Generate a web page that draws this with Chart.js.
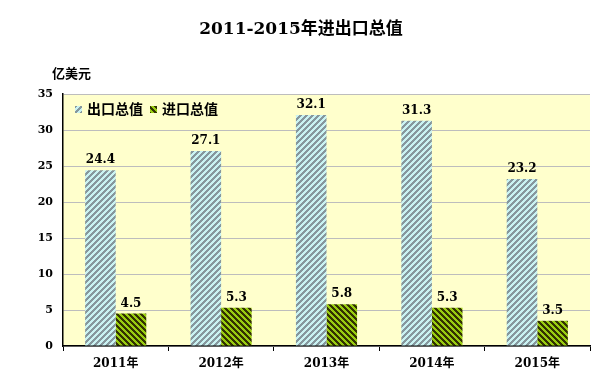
<!DOCTYPE html>
<html>
<head>
    <meta charset="utf-8">
    <title>2011-2015年进出口总值</title>
    <script src="https://cdn.jsdelivr.net/npm/chart.js"></script>
    <style>
        body { margin: 0; background: #fff; }
        #wrap { width: 605px; height: 391px; position: relative; }
    </style>
</head>
<body>
    <div id="wrap"><canvas id="chart"></canvas></div>

    <script>
        // Données
        const years = ['2011年', '2012年', '2013年', '2014年', '2015年'];
        const exportTotal = [24.4, 27.1, 32.1, 31.3, 23.2];
        const importTotal = [4.5, 5.3, 5.8, 5.3, 3.5];
        const yTicks = [0, 5, 10, 15, 20, 25, 30, 35];

        const chartTitle = '2011-2015年进出口总值';
        const unitLabel = '亿美元';
        const serif = "'DejaVu Serif', 'Noto Sans CJK SC'";

        // motifs hachurés
        function stripes(dark, light, slash) {
            const n = 6;
            const c = document.createElement('canvas');
            c.width = n; c.height = n;
            const g = c.getContext('2d');
            for (let x = 0; x < n; x++) {
                for (let y = 0; y < n; y++) {
                    const k = slash ? (x + y) % n : ((x - y) % n + n) % n;
                    g.fillStyle = k < 3 ? dark : light;
                    g.fillRect(x, y, 1, 1);
                }
            }
            return g.createPattern(c, 'repeat');
        }
        const ctx = document.getElementById('chart').getContext('2d');
        const exportFill = stripes('#86979d', '#c9f2f2', true);
        const importFill = stripes('#333300', '#99cc11', false);

        const decor = {
            id: 'decor',
            beforeDraw(chart) {
                const c = chart.ctx, a = chart.chartArea;
                c.save();
                c.fillStyle = '#fff';
                c.fillRect(0, 0, chart.width, chart.height);
                c.fillStyle = '#ffffcc';
                c.fillRect(a.left, a.top, a.right - a.left, a.bottom - a.top);
                c.restore();
            },
            afterDraw(chart) {
                const c = chart.ctx;
                c.save();
                c.fillStyle = '#000';
                c.textBaseline = 'middle';
                // titre
                c.font = 'bold 17px ' + serif;
                c.textAlign = 'center';
                c.fillText(chartTitle, 301, 30);
                // unité
                c.font = 'bold 13px ' + serif;
                c.textAlign = 'left';
                c.fillText(unitLabel, 52, 75);
                // légende
                c.font = 'bold 14px ' + serif;
                let x = 75;
                chart.data.datasets.forEach(ds => {
                    c.fillStyle = ds.backgroundColor;
                    c.fillRect(x, 106, 7, 7);
                    c.fillStyle = '#000';
                    c.fillText(ds.label, x + 12, 110);
                    x += 12 + c.measureText(ds.label).width + 7;
                });
                // étiquettes
                c.font = 'bold 12px ' + serif;
                c.textAlign = 'center';
                c.textBaseline = 'bottom';
                chart.data.datasets.forEach((ds, i) => {
                    chart.getDatasetMeta(i).data.forEach((bar, j) => {
                        c.fillText(ds.data[j].toFixed(1), bar.x, bar.y - 4);
                    });
                });
                c.restore();
            }
        };

        new Chart(ctx, {
            type: 'bar',
            data: {
                labels: years,
                datasets: [
                    { label: '出口总值', data: exportTotal, backgroundColor: exportFill },
                    { label: '进口总值', data: importTotal, backgroundColor: importFill }
                ]
            },
            options: {
                responsive: true,
                maintainAspectRatio: false,
                animation: false,
                layout: { padding: { top: 94, right: 15, left: 0, bottom: 0 } },
                datasets: { bar: { categoryPercentage: 0.58, barPercentage: 1 } },
                plugins: {
                    legend: { display: false },
                    tooltip: { enabled: false }
                },
                scales: {
                    x: {
                        grid: { drawOnChartArea: false, drawTicks: true, tickLength: 5, color: '#000', offset: true },
                        border: { color: '#000', width: 1.5 },
                        ticks: { color: '#000', font: { family: serif, size: 12, weight: 'bold' }, padding: 6 },
                        afterFit(s) { s.height = 45; }
                    },
                    y: {
                        min: 0, max: 35,
                        afterBuildTicks(s) { s.ticks = yTicks.map(v => ({ value: v })); },
                        grid: { color: '#bdbdbd', drawTicks: false },
                        border: { color: '#000', width: 1.5 },
                        ticks: { color: '#000', font: { family: serif, size: 11, weight: 'bold' }, padding: 10 },
                        afterFit(s) { s.width = 63; }
                    }
                }
            },
            plugins: [decor]
        });
    </script>
</body>
</html>
